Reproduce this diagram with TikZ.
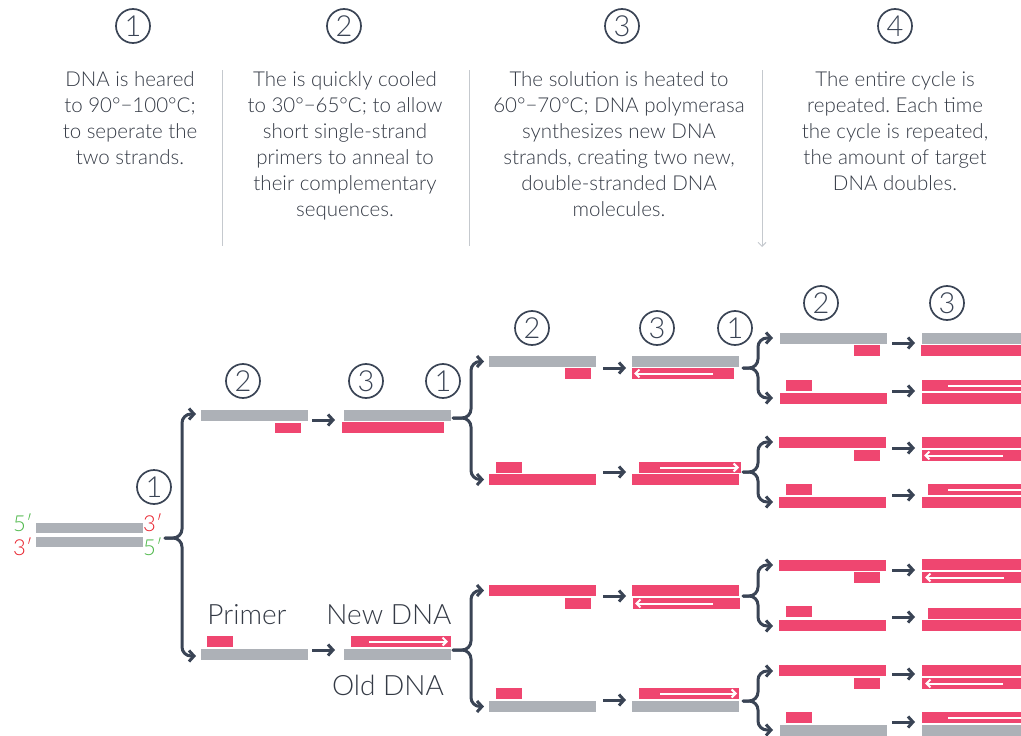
\documentclass[tikz,border=0pt]{standalone}
\usepackage{fontspec}
\setmainfont{Lato Light}
\frenchspacing
\usetikzlibrary{arrows.meta}
\definecolor{dk}{HTML}{3A4455}
\definecolor{txt}{HTML}{343A45}
\definecolor{gb}{HTML}{ADB1B7}
\definecolor{pk}{HTML}{EF4670}
\definecolor{dv}{HTML}{C5C9CE}
\definecolor{gr}{HTML}{4CB748}
\definecolor{rd}{HTML}{E8232E}
\newcommand\gbx[4]{\fill[gb] (#1,#2) rectangle (#3,#4);}
\newcommand\pbx[4]{\fill[pk] (#1,#2) rectangle (#3,#4);}
\newcommand\mybrace[6]{%
  \draw[brc] (#1,#2) -- (#3,#2) -- (#3,#5) -- (#4,#5);
  \draw[brc] (#1,#2) -- (#3,#2) -- (#3,#6) -- (#4,#6);}
\begin{document}
\begin{tikzpicture}[x=1pt,y=-1pt,
  num/.style={circle, draw=dk, line width=1.7pt, minimum size=34pt, inner sep=0pt, text=dk, font=\fontsize{29}{29}\selectfont},
  desc/.style={align=center, anchor=north, inner sep=0pt, text=txt, font=\fontsize{20.5}{26}\selectfont},
  lbl/.style={inner sep=0pt, text=txt, font=\fontsize{28}{28}\selectfont},
  end/.style={inner sep=0pt, font=\fontsize{22}{22}\selectfont},
  brc/.style={dk, line width=3pt, rounded corners=9pt, line cap=round, -{Straight Barb[length=5pt,width=11pt]}},
  harr/.style={dk, line width=3pt, -{Straight Barb[length=5pt,width=11pt]}},
  warr/.style={white, line width=2pt, -{Straight Barb[length=4pt,width=8pt]}},
  divl/.style={dv, line width=1pt}]
\useasboundingbox (0,0) rectangle (1021,736);

% ---------- header ----------
\node[num] (h1) at (133,26) {1};
\node[num] (h2) at (344,26) {2};
\node[num] (h3) at (622,26) {3};
\node[num] (h4) at (895,26) {4};
\node[desc] (t1) at (130,71) {DNA is heared\\to 90°−100°C;\\to seperate the\\two strands.};
\node[desc] (t2) at (345,71) {The is quickly cooled\\to 30°−65°C; to allow\\short single-strand\\primers to anneal to\\their complementary\\sequences.};
\node[desc] (t3) at (619,71) {The solution is heated to\\60°−70°C; DNA polymerasa\\synthesizes new DNA\\strands, creating two new,\\double-stranded DNA\\molecules.};
\node[desc] (t4) at (895,71) {The entire cycle is\\repeated. Each time\\the cycle is repeated,\\the amount of target\\DNA doubles.};
\coordinate (d1a) at (222,70); \coordinate (d1b) at (222,246);
\coordinate (d2a) at (469,70); \coordinate (d2b) at (469,246);
\coordinate (d3a) at (762,70); \coordinate (d3b) at (762,247);
\draw[divl] (d1a) -- (d1b);
\draw[divl] (d2a) -- (d2b);
\draw[divl, -{Straight Barb[length=4pt,width=8pt]}] (d3a) -- (d3b);

% ---------- original DNA ----------
\gbx{36}{523}{143}{533}
\gbx{36}{537}{143}{547}
\node[end, text=gr] (e1) at (23,523) {5′};
\node[end, text=rd] (e2) at (23,547) {3′};
\node[end, text=rd] (e3) at (153,523) {3′};
\node[end, text=gr] (e4) at (153,547) {5′};
\node[num] (c0) at (154,487) {1};
\mybrace{165}{538}{182}{196}{414}{656}

% ---------- cycle 1 ----------
\node[num] (c1a) at (243,381) {2};
\node[num] (c1b) at (366,381) {3};
\node[num] (c1c) at (443,381) {1};
\gbx{201}{410}{308}{421}
\pbx{275}{423}{301}{433}
\draw[harr] (312,420) -- (335,420);
\gbx{344}{410}{451}{421}
\pbx{342}{422}{444}{433}

\node[lbl] (pr) at (247,615) {Primer};
\pbx{207}{636}{233}{647}
\gbx{201}{649}{308}{660}
\draw[harr] (312,650) -- (335,650);
\node[lbl] (nd) at (389,615) {New DNA};
\pbx{351}{636}{451}{647}
\draw[warr] (369,641.5) -- (448,641.5);
\gbx{344}{649}{451}{660}
\node[lbl] (od) at (388,685) {Old DNA};

\mybrace{453}{418}{471}{484}{361.5}{479.5}
\mybrace{453}{650}{471}{484}{590.5}{706.5}

% ---------- cycle 2 ----------
\node[num] (c2a) at (532,328) {2};
\node[num] (c2b) at (657,328) {3};
\node[num] (c2c) at (735,328) {1};
% row 1
\gbx{489}{356}{596}{367}
\pbx{565}{368}{591}{379}
\draw[harr] (603,368) -- (626,368);
\gbx{632}{356}{739}{367}
\pbx{632}{368}{734}{379}
\draw[warr] (713,373.5) -- (634,373.5);
% row 2
\pbx{496}{462}{522}{473}
\pbx{489}{474}{596}{485}
\draw[harr] (603,472) -- (626,472);
\pbx{639}{462}{741}{473}
\draw[warr] (660,467.5) -- (739,467.5);
\pbx{632}{474}{739}{485}
% row 3
\pbx{489}{585}{596}{596}
\pbx{565}{598}{591}{609}
\draw[harr] (603,596) -- (626,596);
\pbx{632}{585}{739}{596}
\pbx{633}{598}{740}{609}
\draw[warr] (713,603.5) -- (635,603.5);
% row 4
\pbx{496}{688}{522}{699}
\gbx{489}{701}{596}{712}
\draw[harr] (603,700) -- (626,700);
\pbx{639}{688}{739}{699}
\draw[warr] (660,693.5) -- (737,693.5);
\gbx{632}{701}{739}{712}

\mybrace{743}{368}{758}{773}{338}{398}
\mybrace{743}{472}{758}{773}{442}{502}
\mybrace{743}{596}{758}{773}{565}{626}
\mybrace{743}{701}{758}{773}{671}{730}

% ---------- cycle 3 ----------
\node[num] (c3a) at (821,303) {2};
\node[num] (c3b) at (947,303) {3};
% A
\gbx{780}{333}{887}{344}
\pbx{854}{345}{880}{356}
\draw[harr] (892,343) -- (915,343);
\gbx{922}{333}{1025}{344}
\pbx{921}{345}{1025}{356}
% B
\pbx{786}{380}{812}{391}
\pbx{780}{393}{887}{404}
\draw[harr] (892,391) -- (915,391);
\pbx{922}{380}{1025}{391}
\draw[white, line width=2pt] (948,385.5) -- (1030,385.5);
\pbx{922}{393}{1025}{404}
% C
\pbx{779}{437}{886}{448}
\pbx{854}{450}{880}{461}
\draw[harr] (892,448) -- (915,448);
\pbx{922}{437}{1025}{448}
\pbx{922}{450}{1025}{461}
\draw[warr] (1003,455.5) -- (924,455.5);
% D
\pbx{786}{484}{812}{495}
\pbx{779}{497}{886}{508}
\draw[harr] (892,495) -- (915,495);
\pbx{928}{484}{1025}{495}
\draw[white, line width=2pt] (948,489.5) -- (1030,489.5);
\pbx{922}{497}{1025}{508}
% E
\pbx{779}{560}{886}{571}
\pbx{854}{572}{880}{583}
\draw[harr] (892,570) -- (915,570);
\pbx{922}{559}{1025}{570}
\pbx{922}{572}{1025}{583}
\draw[warr] (1004,577.5) -- (925,577.5);
% F
\pbx{786}{606}{812}{617}
\pbx{779}{620}{886}{631}
\draw[harr] (892,617) -- (915,617);
\pbx{928}{608}{1025}{619}
\pbx{922}{620}{1025}{631}
% G
\pbx{779}{665}{886}{676}
\pbx{854}{678}{880}{689}
\draw[harr] (892,674) -- (915,674);
\pbx{922}{665}{1025}{676}
\pbx{922}{678}{1025}{689}
\draw[warr] (1003,683.5) -- (925,683.5);
% H
\pbx{786}{712}{812}{723}
\gbx{780}{725}{887}{740}
\draw[harr] (892,722) -- (915,722);
\pbx{922}{712}{1025}{723}
\draw[white, line width=2pt] (948,717.5) -- (1030,717.5);
\gbx{922}{725}{1025}{740}
\end{tikzpicture}
\end{document}
